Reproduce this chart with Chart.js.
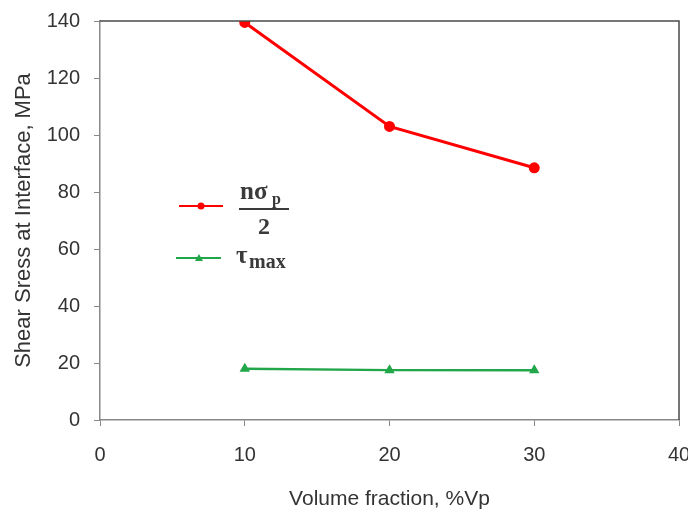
<!DOCTYPE html>
<html>
<head>
<meta charset="utf-8">
<script src="https://cdn.jsdelivr.net/npm/chart.js@4/dist/chart.umd.min.js"></script>
<style>
  html, body { margin: 0; padding: 0; background: #fff; }
  #wrap { width: 688px; height: 514px; position: relative; }
</style>
</head>
<body>
<div id="wrap"><canvas id="chart"></canvas></div>
<script>
// data
var volumeFractions = [10, 20, 30];
var halfStress = [139.5, 103, 88.5];
var tauMax = [18, 17.5, 17.5];
var xTicks = [0, 10, 20, 30, 40];
var yTicks = [0, 20, 40, 60, 80, 100, 120, 140];

function toPoints(xs, ys) {
    return xs.map(function (x, i) { return {x: x, y: ys[i]}; });
}

// frame on top/right + math legend
var framePlugin = {
    id: 'frame',
    afterDraw: function (chart) {
        var ctx = chart.ctx, a = chart.chartArea;
        ctx.save();
        ctx.strokeStyle = '#4a4a4a';
        ctx.lineWidth = 1.5;
        ctx.beginPath();
        ctx.moveTo(a.left, a.top);
        ctx.lineTo(a.right, a.top);
        ctx.lineTo(a.right, a.bottom);
        ctx.stroke();

        var serif = '"Liberation Serif", "DejaVu Serif", serif';

        // legend: red
        ctx.strokeStyle = '#ff0000';
        ctx.lineWidth = 2;
        ctx.beginPath(); ctx.moveTo(179, 206); ctx.lineTo(223, 206); ctx.stroke();
        ctx.fillStyle = '#ff0000';
        ctx.beginPath(); ctx.arc(201, 206, 3.5, 0, Math.PI * 2); ctx.fill();

        ctx.fillStyle = '#3a3a3a';
        ctx.textBaseline = 'alphabetic';
        ctx.textAlign = 'left';
        ctx.font = 'bold 25px ' + serif;
        ctx.fillText('nσ', 240, 199);
        ctx.font = 'bold 16px ' + serif;
        ctx.fillText('p', 272, 204);
        ctx.fillRect(239, 208, 50, 2);
        ctx.font = 'bold 24px ' + serif;
        ctx.textAlign = 'center';
        ctx.fillText('2', 264, 234);

        // legend: green
        ctx.strokeStyle = '#22a64a';
        ctx.lineWidth = 2;
        ctx.beginPath(); ctx.moveTo(176, 258); ctx.lineTo(221, 258); ctx.stroke();
        ctx.fillStyle = '#22a64a';
        ctx.beginPath();
        ctx.moveTo(199, 254); ctx.lineTo(203, 261); ctx.lineTo(195, 261); ctx.closePath(); ctx.fill();

        ctx.fillStyle = '#3a3a3a';
        ctx.textAlign = 'left';
        ctx.font = 'bold 25px ' + serif;
        ctx.fillText('τ', 236, 263);
        ctx.font = 'bold 20px ' + serif;
        ctx.fillText('max', 249, 268);
        ctx.restore();
    }
};

Chart.defaults.font.family = '"Liberation Sans", Arial, sans-serif';
Chart.defaults.color = '#333';

var ctx = document.getElementById('chart').getContext('2d');
var chart = new Chart(ctx, {
    type: 'line',
    data: {
        datasets: [{
            label: 'nσp/2',
            data: toPoints(volumeFractions, halfStress),
            borderColor: '#ff0000',
            backgroundColor: '#ff0000',
            borderWidth: 3,
            pointRadius: 4,
            pointStyle: 'circle',
            tension: 0
        }, {
            label: 'τmax',
            data: toPoints(volumeFractions, tauMax),
            borderColor: '#22a64a',
            backgroundColor: '#22a64a',
            borderWidth: 2.5,
            pointRadius: 3.5,
            pointStyle: 'triangle',
            tension: 0
        }]
    },
    options: {
        responsive: true, maintainAspectRatio: false, animation: false,
        layout: {padding: {top: 21, right: 9, left: 0, bottom: 0}},
        plugins: {
            legend: {display: false},
            tooltip: {enabled: false}
        },
        scales: {
            x: {
                type: 'linear', min: 0, max: 40,
                afterBuildTicks: function (s) { s.ticks = xTicks.map(function (v) { return {value: v}; }); },
                afterFit: function (s) { s.height = 94; s.paddingLeft = 0; s.paddingRight = 0; },
                grid: {drawOnChartArea: false, drawTicks: true, tickLength: 6, color: '#888'},
                border: {color: '#888', width: 1.5},
                ticks: {font: {size: 20}, padding: 17, maxRotation: 0, color: '#333'},
                title: {display: true, text: 'Volume fraction, %Vp', font: {size: 21}, padding: {top: 0, bottom: 2}}
            },
            y: {
                min: 0, max: 140,
                afterBuildTicks: function (s) { s.ticks = yTicks.map(function (v) { return {value: v}; }); },
                afterFit: function (s) { s.width = 100; s.paddingTop = 0; s.paddingBottom = 0; },
                grid: {drawOnChartArea: false, drawTicks: true, tickLength: 6, color: '#888'},
                border: {color: '#888', width: 1.5},
                ticks: {font: {size: 20}, padding: 14, color: '#333'},
                title: {display: true, text: 'Shear Sress at Interface, MPa', font: {size: 22}, padding: {top: 11, bottom: 11}}
            }
        }
    },
    plugins: [framePlugin]
});
</script>
</body>
</html>
